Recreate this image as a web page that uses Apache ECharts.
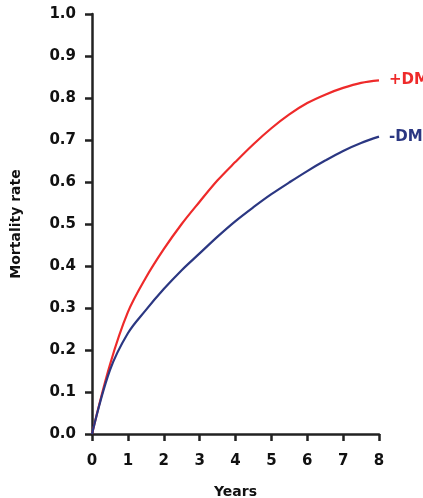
<!DOCTYPE html>
<html><head><meta charset="utf-8">
<script src="https://cdn.jsdelivr.net/npm/echarts@6/dist/echarts.min.js"></script>
<style>html,body{margin:0;padding:0;background:#fff}#c{width:423px;height:498px}</style>
</head><body><div id="c"></div>
<script>
const years = [0, 0.5, 1, 1.5, 2, 2.5, 3, 3.5, 4, 4.5, 5, 5.5, 6, 6.5, 7, 7.5, 8];
const plusDM = [0, 0.165, 0.29, 0.372, 0.44, 0.50, 0.553, 0.604, 0.648, 0.69, 0.728, 0.761, 0.788, 0.808, 0.824, 0.836, 0.842];
const minusDM = [0, 0.152, 0.24, 0.295, 0.345, 0.39, 0.43, 0.47, 0.507, 0.54, 0.571, 0.599, 0.626, 0.651, 0.674, 0.693, 0.708];
const seriesNames = ['+DM', '-DM'];
const colors = ['#ee2a2a', '#2b3782'];

const axisCommon = {
  axisLine: {show: true, lineStyle: {color: '#222', width: 2.5}},
  axisTick: {show: true, length: 7, lineStyle: {color: '#222', width: 2.5}},
  splitLine: {show: false},
  nameTextStyle: {fontFamily: 'DejaVu Sans', fontWeight: 'bold', fontSize: 14, color: '#111'}
};

const chart = echarts.init(document.getElementById('c'), null, {renderer: 'canvas'});
chart.setOption({
  animation: false,
  backgroundColor: '#fff',
  grid: {left: 92, right: 44, top: 14, bottom: 64, containLabel: false, outerBoundsMode: 'none'},
  xAxis: Object.assign({}, axisCommon, {
    type: 'value', min: 0, max: 8, interval: 1,
    name: 'Years', nameLocation: 'middle', nameGap: 51,
    axisLabel: {margin: 20, fontFamily: 'DejaVu Sans', fontWeight: 'bold', fontSize: 15, color: '#111'}
  }),
  yAxis: Object.assign({}, axisCommon, {
    type: 'value', min: 0, max: 1, interval: 0.1,
    name: 'Mortality rate', nameLocation: 'middle', nameGap: 69, nameRotate: 90,
    axisLabel: {margin: 16, fontFamily: 'DejaVu Sans', fontWeight: 'bold', fontSize: 15, color: '#111',
      formatter: v => v.toFixed(1)}
  }),
  series: [plusDM, minusDM].map((d, i) => ({
    name: seriesNames[i], type: 'line', smooth: 0.35, showSymbol: false,
    data: years.map((x, j) => [x, d[j]]),
    lineStyle: {color: colors[i], width: 2.2},
    endLabel: {show: true, formatter: seriesNames[i], distance: 10, color: colors[i],
      fontFamily: 'DejaVu Sans', fontWeight: 'bold', fontSize: 15}
  }))
});
</script></body></html>
